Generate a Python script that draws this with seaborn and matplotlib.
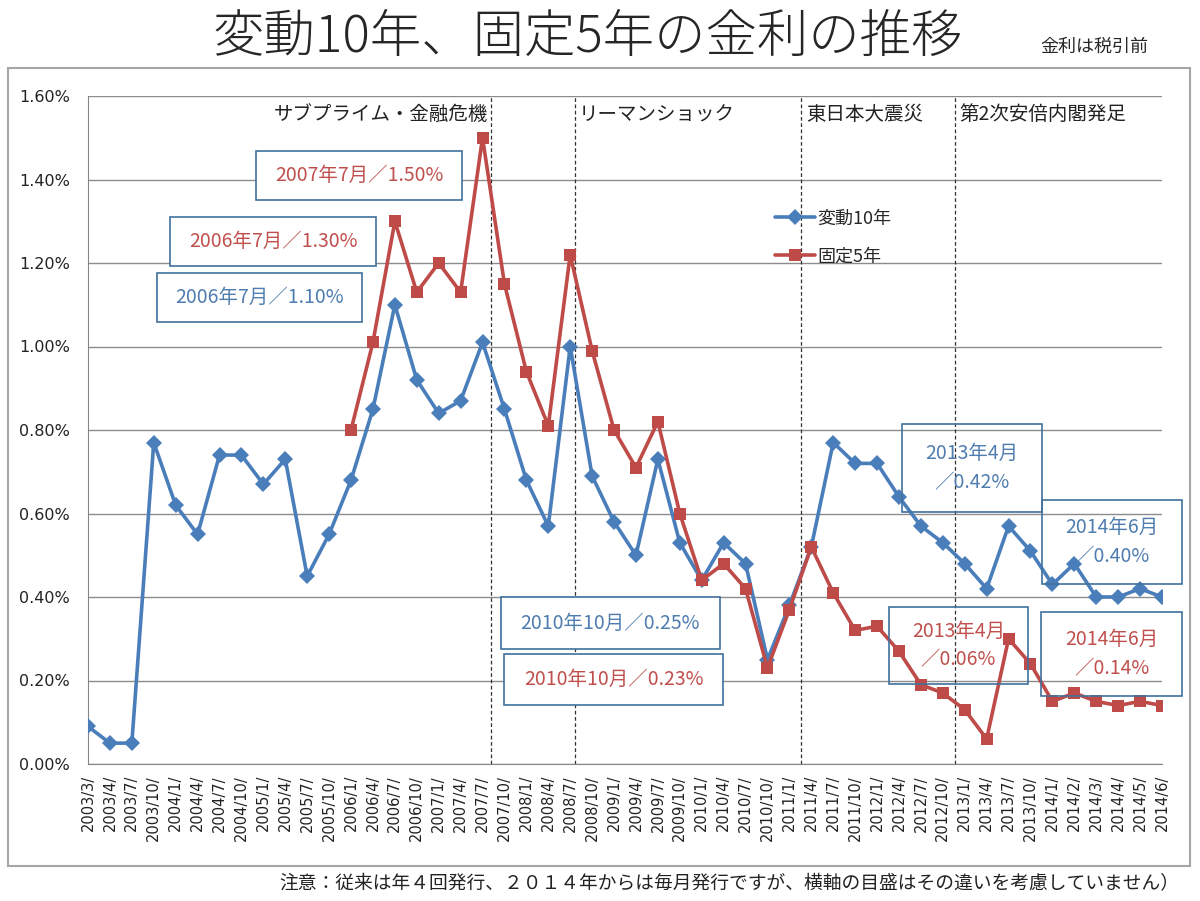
import numpy as np
import pandas as pd
import seaborn as sns
import matplotlib
matplotlib.use('Agg')
from matplotlib import pyplot as plt
from matplotlib.patches import Rectangle
from matplotlib.ticker import FuncFormatter

categories = ['2003/3/', '2003/4/', '2003/7/', '2003/10/', '2004/1/', '2004/4/', '2004/7/', '2004/10/',
              '2005/1/', '2005/4/', '2005/7/', '2005/10/', '2006/1/', '2006/4/', '2006/7/', '2006/10/',
              '2007/1/', '2007/4/', '2007/7/', '2007/10/', '2008/1/', '2008/4/', '2008/7/', '2008/10/',
              '2009/1/', '2009/4/', '2009/7/', '2009/10/', '2010/1/', '2010/4/', '2010/7/', '2010/10/',
              '2011/1/', '2011/4/', '2011/7/', '2011/10/', '2012/1/', '2012/4/', '2012/7/', '2012/10/',
              '2013/1/', '2013/4/', '2013/7/', '2013/10/', '2014/1/', '2014/2/', '2014/3/', '2014/4/',
              '2014/5/', '2014/6/']

# 変動10年 (%)
hendou10 = [0.09, 0.05, 0.05, 0.77, 0.62, 0.55, 0.74, 0.74, 0.67, 0.73, 0.45, 0.55,
            0.68, 0.85, 1.10, 0.92, 0.84, 0.87, 1.01, 0.85, 0.68, 0.57, 1.00, 0.69,
            0.58, 0.50, 0.73, 0.53, 0.44, 0.53, 0.48, 0.25, 0.38, 0.52, 0.77, 0.72,
            0.72, 0.64, 0.57, 0.53, 0.48, 0.42, 0.57, 0.51, 0.43, 0.48, 0.40, 0.40,
            0.42, 0.40]

# 固定5年 (%), starts 2006/1
kotei5 = [np.nan] * 12 + [0.80, 1.01, 1.30, 1.13, 1.20, 1.13, 1.50, 1.15, 0.94, 0.81, 1.22, 0.99,
                          0.80, 0.71, 0.82, 0.60, 0.44, 0.48, 0.42, 0.23, 0.37, 0.52, 0.41, 0.32,
                          0.33, 0.27, 0.19, 0.17, 0.13, 0.06, 0.30, 0.24, 0.15, 0.17, 0.15, 0.14,
                          0.15, 0.14]

event_labels = ['サブプライム・金融危機', 'リーマンショック', '東日本大震災', '第2次安倍内閣発足']
event_pos = [18.4, 22.2, 32.55, 39.55]

note_texts = ['2007年7月／1.50%', '2006年7月／1.30%', '2006年7月／1.10%',
              '2013年4月\n／0.42%', '2014年6月\n／0.40%',
              '2010年10月／0.25%', '2010年10月／0.23%',
              '2013年4月\n／0.06%', '2014年6月\n／0.14%']
note_series = ['red', 'red', 'blue', 'blue', 'blue', 'blue', 'red', 'red', 'red']
note_boxes = [(7.66, 17.06, 1.351, 1.468), (3.74, 13.14, 1.193, 1.310), (3.15, 12.50, 1.059, 1.176),
              (37.14, 43.52, 0.604, 0.814), (43.52, 49.91, 0.431, 0.632),
              (18.84, 28.83, 0.275, 0.400), (18.98, 28.97, 0.141, 0.263),
              (36.54, 42.88, 0.192, 0.376), (43.48, 49.91, 0.163, 0.364)]
note_filled = [True, True, True, False, False, True, True, False, False]

blue = '#4a7ebb'
red = '#be4b48'
text_colors = {'blue': '#4f7db0', 'red': '#c0504d'}

df = pd.DataFrame({'x': np.arange(len(categories)), 'hendou': hendou10, 'kotei': kotei5})

sns.set_style('white')
plt.rcParams['font.family'] = ['Noto Sans CJK JP', 'DejaVu Sans']

fig = plt.figure(figsize=(12, 9.01), dpi=100)
ax = fig.add_axes([88 / 1200, 1 - 764 / 901, (1162 - 88) / 1200, (764 - 96) / 901])

sns.lineplot(data=df, x='x', y='hendou', ax=ax, color=blue, marker='D', markersize=8,
             markeredgewidth=0, linewidth=2.6, label='変動10年', zorder=3)
sns.lineplot(data=df.dropna(), x='x', y='kotei', ax=ax, color=red, marker='s', markersize=9,
             markeredgewidth=0, linewidth=2.6, label='固定5年', zorder=3)

ax.set_xlim(0, len(categories) - 1)
ax.set_ylim(0, 1.6)
ax.set_yticks(np.arange(0, 1.61, 0.2))
ax.yaxis.set_major_formatter(FuncFormatter(lambda v, p: f'{v:.2f}%'))
ax.set_xticks(range(len(categories)))
ax.set_xticklabels(categories, rotation=90, fontfamily='DejaVu Sans', fontsize=10.5)
for t in ax.get_yticklabels():
    t.set_fontfamily('DejaVu Sans')
    t.set_fontsize(11.5)
ax.tick_params(axis='x', direction='out', length=5, color='#868686', pad=3, labelcolor='#222222')
ax.tick_params(axis='y', direction='out', length=4, color='#868686', pad=9, labelcolor='#222222')
ax.set_xlabel('')
ax.set_ylabel('')
ax.grid(axis='y', color='#8c8c8c', linewidth=1.0, zorder=0)
ax.grid(axis='x', visible=False)
ax.set_axisbelow(True)
for side in ['top', 'right']:
    ax.spines[side].set_visible(False)
for side in ['left', 'bottom']:
    ax.spines[side].set_color('#868686')

for lab, pos in zip(event_labels, event_pos):
    ax.axvline(pos, color='#333333', linewidth=0.9, linestyle=(0, (3, 2)), zorder=1)
    if pos < 20:
        ax.text(pos - 0.15, 1.555, lab, ha='right', va='center', fontsize=14, color='#222222')
    else:
        ax.text(pos + 0.2, 1.555, lab, ha='left', va='center', fontsize=14, color='#222222')

for txt, ser, (x0, x1, y0, y1), filled in zip(note_texts, note_series, note_boxes, note_filled):
    ax.add_patch(Rectangle((x0, y0), x1 - x0, y1 - y0, facecolor='white' if filled else 'none',
                           edgecolor='#41719c', linewidth=1.2, zorder=2 if filled else 4, clip_on=False))
    ax.text((x0 + x1) / 2, (y0 + y1) / 2, txt, ha='center', va='center', fontsize=14,
            color=text_colors[ser], linespacing=1.5, zorder=5, clip_on=False)

ax.legend(loc='upper left', bbox_to_anchor=(0.64, 0.83), frameon=False, fontsize=13,
          handlelength=2.2, handletextpad=0.1, labelspacing=1.1, borderpad=0, borderaxespad=0)

fig.text(0.49, 0.958, '変動10年、固定5年の金利の推移', fontsize=37, fontweight='light',
         ha='center', va='center')
fig.text(0.912, 0.948, '金利は税引前', fontsize=13, ha='center', va='center')
fig.text(0.983, 0.019, '注意：従来は年４回発行、２０１４年からは毎月発行ですが、横軸の目盛はその違いを考慮していません）',
         fontsize=13.5, ha='right', va='center', color='#222222')
fig.add_artist(Rectangle((8 / 1200, 35 / 901), 1182 / 1200, (866 - 68) / 901, transform=fig.transFigure,
                         fill=False, edgecolor='#a6a6a6', linewidth=1.5))

fig.savefig('out.png', dpi=100)
